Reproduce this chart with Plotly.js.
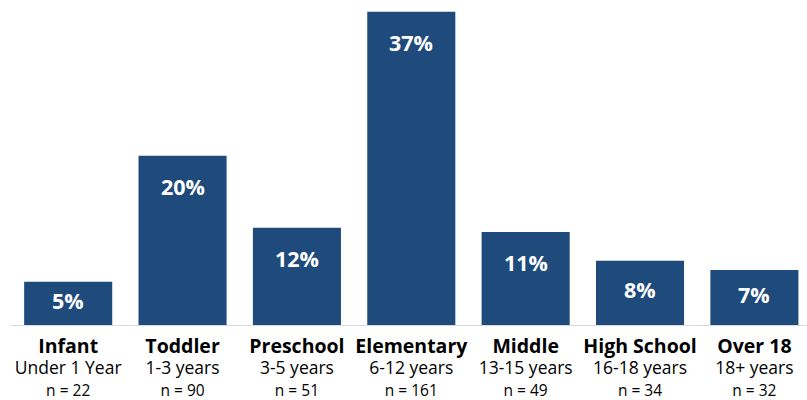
<!DOCTYPE html>
<html><head><meta charset="utf-8">
<script src="https://cdn.plot.ly/plotly-3.0.1.min.js"></script>
<style>html,body{margin:0;padding:0;background:#fff;overflow:hidden}#chart{width:807px;height:400px}</style>
</head><body><div id="chart"></div>
<script>
const categories = ["Infant","Toddler","Preschool","Elementary","Middle","High School","Over 18"];
const ageRanges = ["Under 1 Year","1-3 years","3-5 years","6-12 years","13-15 years","16-18 years","18+ years"];
const counts = [22, 90, 51, 161, 49, 34, 32];
const percents = [5.1, 20.0, 11.5, 37.0, 11.0, 7.6, 6.5];
const percentLabels = ["5%","20%","12%","37%","11%","8%","7%"];

const barColor = "#1F4A7C";
const font = "Open Sans, Noto Sans, sans-serif";
const yMax = 37.8;
const plotH = 320;

const ticktext = categories.map((c, i) =>
  `<b style="font-size:19.5px">${c}</b><br><span style="font-size:17.5px">${ageRanges[i]}</span><br><span style="font-size:15.5px">n = ${counts[i]}</span>`);

const annotations = categories.map((c, i) => {
  const barPx = percents[i] / yMax * plotH;
  const centerOff = Math.min(31, barPx / 2 - 3);
  return {
    x: i, y: percents[i], xref: "x", yref: "y",
    text: "<b>" + percentLabels[i] + "</b>", showarrow: false,
    yanchor: "middle", yshift: -centerOff,
    font: {family: font, size: 21.5, color: "#ffffff"}
  };
});

Plotly.newPlot("chart", [{
  type: "bar", x: categories.map((c, i) => i), y: percents,
  marker: {color: barColor, line: {width: 0}},
  hoverinfo: "skip"
}], {
  width: 807, height: 400,
  margin: {l: 11, r: 0, t: 5, b: 75},
  bargap: 0.23,
  paper_bgcolor: "#fff", plot_bgcolor: "#fff",
  showlegend: false,
  font: {family: font, size: 16.5, color: "#000"},
  xaxis: {
    tickmode: "array", tickvals: categories.map((c, i) => i), ticktext: ticktext,
    range: [-0.5, 6.46], showline: true, linecolor: "#d9d9d9", linewidth: 1,
    ticks: "", showgrid: false, zeroline: false, ticklabelstandoff: 7,
    tickfont: {family: font, size: 16.5, color: "#000"}
  },
  yaxis: {range: [0, yMax], visible: false, showgrid: false, zeroline: false},
  annotations: annotations
}, {displayModeBar: false, staticPlot: true});
</script></body></html>
